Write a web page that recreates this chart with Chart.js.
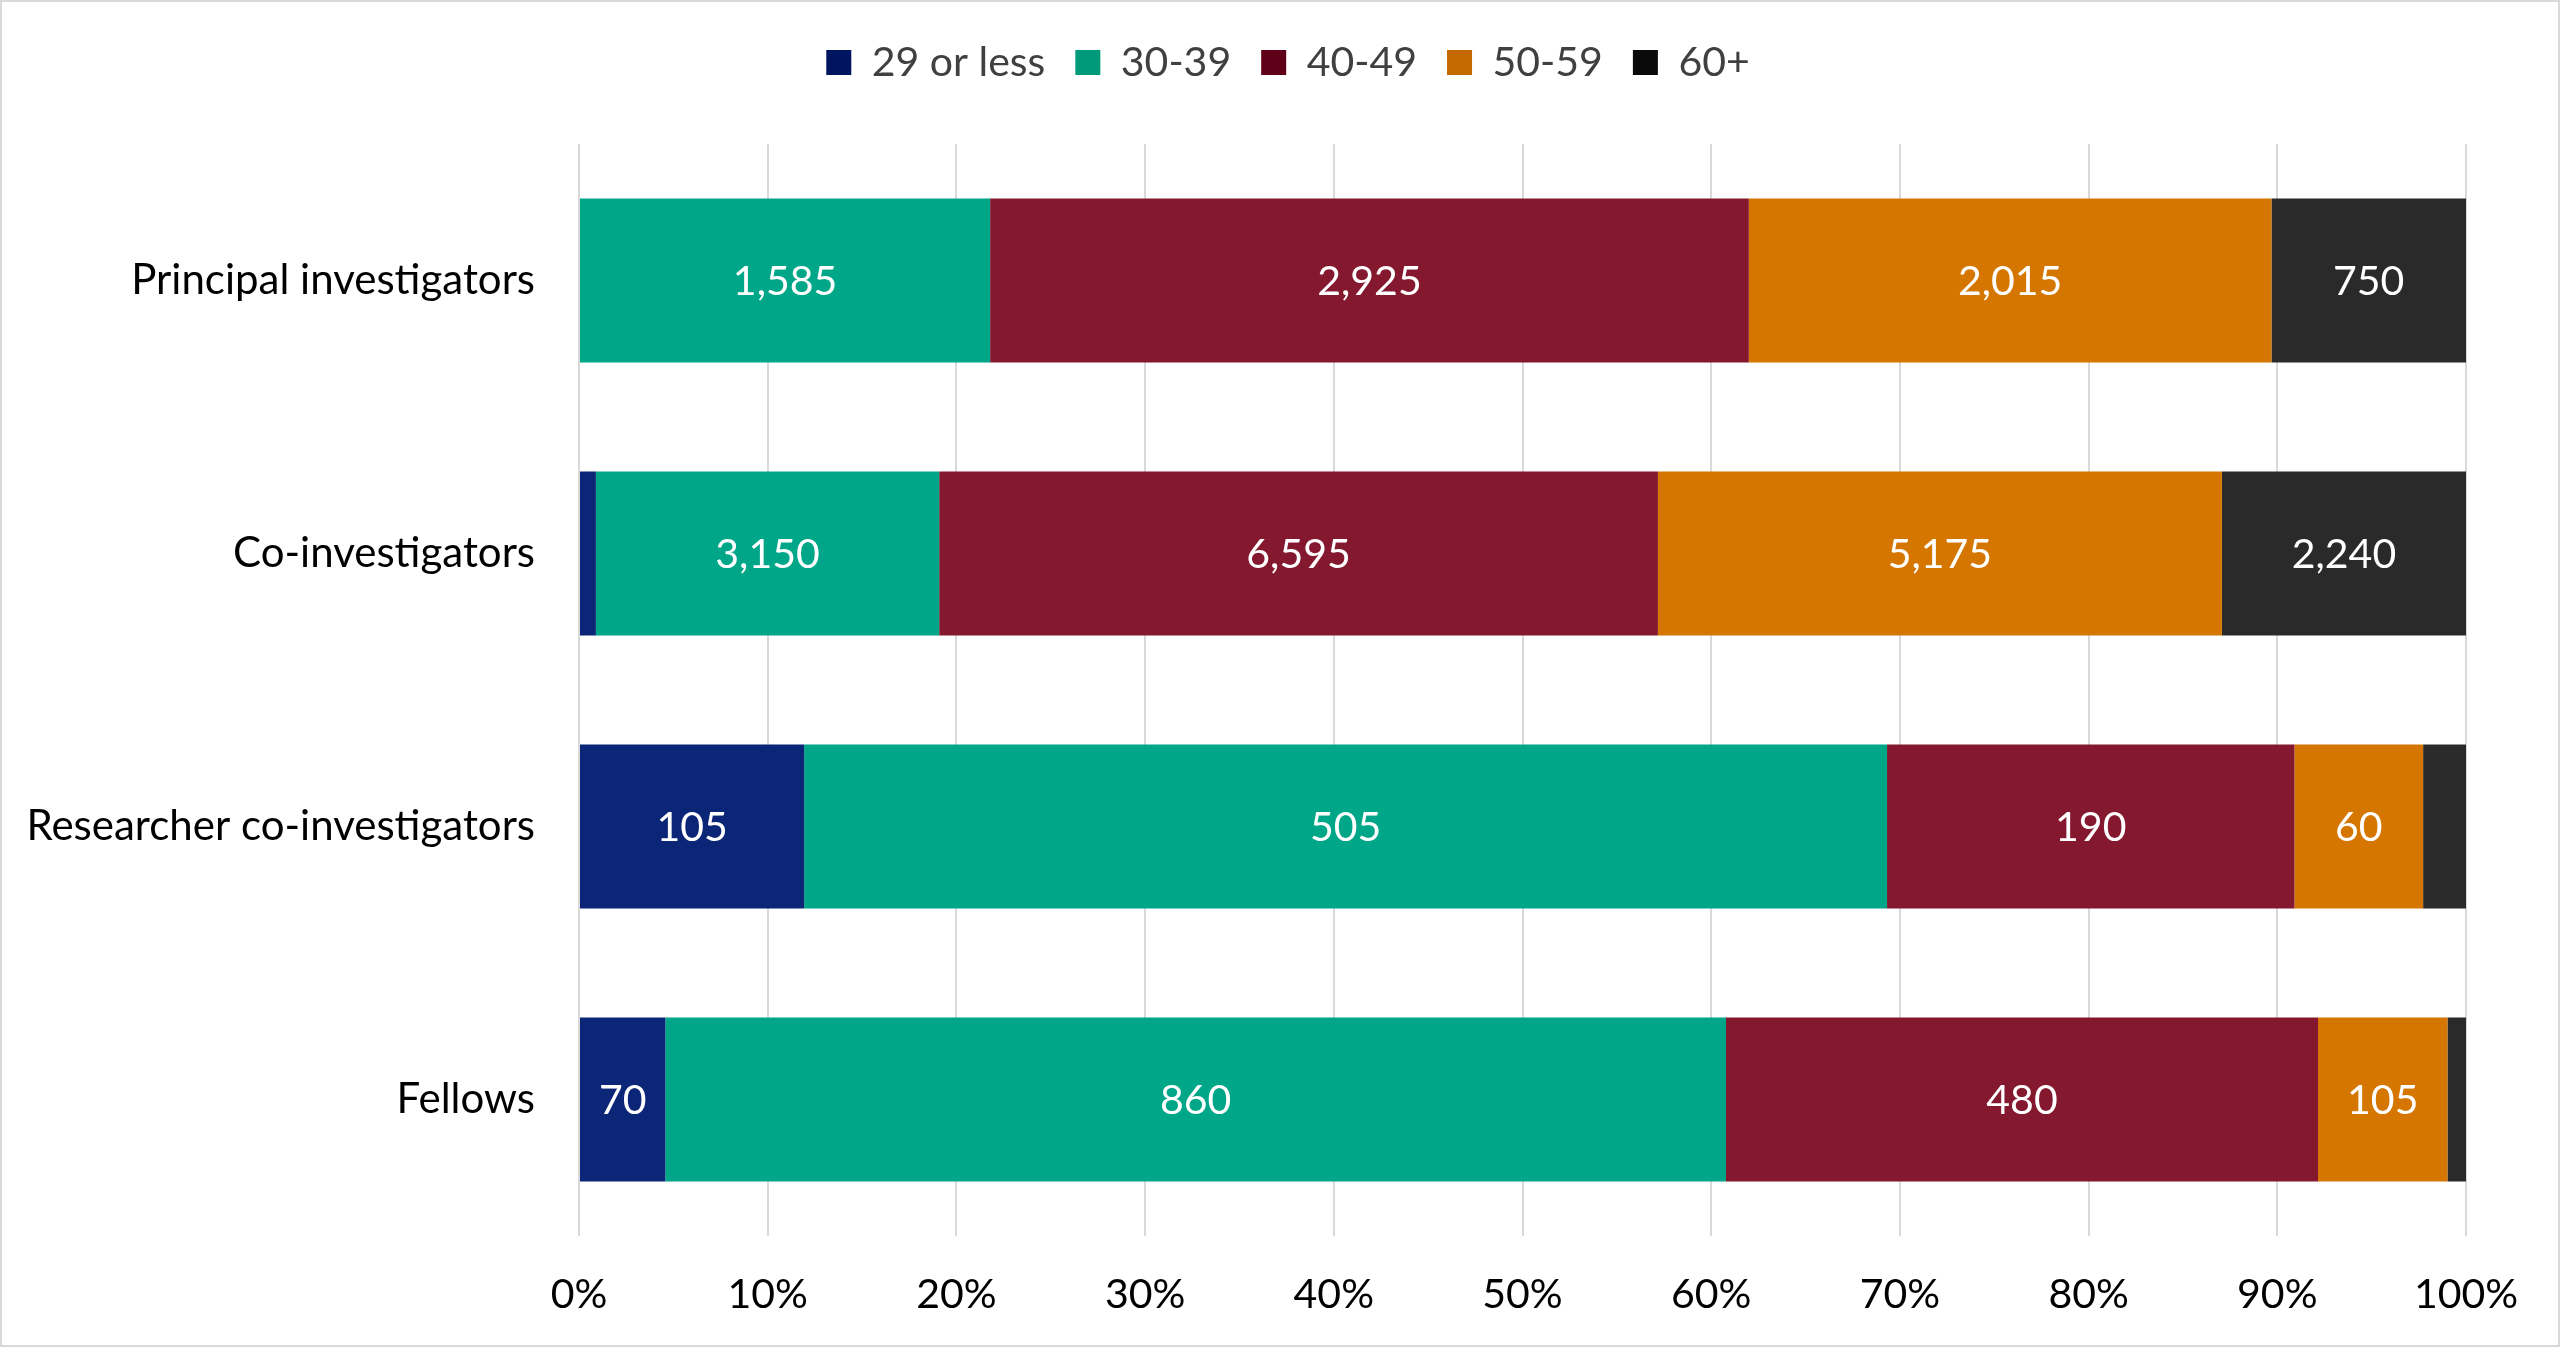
<!DOCTYPE html>
<html>
<head>
<meta charset="utf-8">
<title>Age profile of award holders</title>
<script src="https://cdn.jsdelivr.net/npm/chart.js@4/dist/chart.umd.min.js"></script>
<style>
  html, body { margin: 0; padding: 0; background: #fff; overflow: hidden; }
  #wrap { width: 2560px; height: 1347px; box-sizing: border-box; border: 2px solid #d9d9d9; position: relative; }
</style>
</head>
<body>
<div id="wrap"><canvas id="ageChart"></canvas></div>
<script>
// categories and counts per age group
const categories = ['Principal investigators', 'Co-investigators', 'Researcher co-investigators', 'Fellows'];
const ageGroups = ['29 or less', '30-39', '40-49', '50-59', '60+'];
const under30 = [0, 155, 105, 70];
const age30s = [1585, 3150, 505, 860];
const age40s = [2925, 6595, 190, 480];
const age50s = [2015, 5175, 60, 105];
const over60 = [750, 2240, 20, 15];
const xTicks = [0, 10, 20, 30, 40, 50, 60, 70, 80, 90, 100];

const barColors = ['#0b2577', '#00a688', '#83182e', '#d47600', '#2a2a2a'];
const legendColors = ['#001560', '#009a7a', '#600018', '#c46800', '#0a0a0a'];

const series = [under30, age30s, age40s, age50s, over60];

// totals per category so every bar adds up to 100%
let totals = categories.map(function (c, j) {
    return series.reduce(function (sum, s) { return sum + s[j]; }, 0);
});

Chart.defaults.font.family = 'Lato';
Chart.defaults.font.size = 41;

let datasets = series.map(function (s, i) {
    return {
        label: ageGroups[i],
        data: s.map(function (v, j) { return v / totals[j] * 100; }),
        backgroundColor: barColors[i],
        borderWidth: 0,
        categoryPercentage: 1,
        barPercentage: 0.6
    };
});

// white count labels in the middle of each segment wide enough to hold them
const countLabels = {
    id: 'countLabels',
    afterDatasetsDraw: function (chart) {
        let ctx = chart.ctx;
        ctx.save();
        ctx.font = '41px Lato';
        ctx.fillStyle = '#ffffff';
        ctx.textAlign = 'center';
        ctx.textBaseline = 'middle';
        series.forEach(function (s, i) {
            let meta = chart.getDatasetMeta(i);
            meta.data.forEach(function (bar, j) {
                let v = s[j];
                if (!v) return;
                if (Math.abs(bar.x - bar.base) < 60) return;
                ctx.fillText(v.toLocaleString('en-US'), (bar.x + bar.base) / 2, bar.y + 1);
            });
        });
        ctx.restore();
    }
};

// the legend sits a little right of the canvas centre in the original
const legendShift = {
    id: 'legendShift',
    afterLayout: function (chart) {
        chart.legend.left += 54;
        chart.legend.right += 54;
    }
};

new Chart(document.getElementById('ageChart'), {
    type: 'bar',
    data: { labels: categories, datasets: datasets },
    plugins: [countLabels, legendShift],
    options: {
        indexAxis: 'y',
        responsive: true,
        maintainAspectRatio: false,
        animation: false,
        devicePixelRatio: 1,
        layout: { padding: { top: 10, right: 92, bottom: 0, left: 0 } },
        plugins: {
            tooltip: { enabled: false },
            legend: {
                position: 'top',
                weight: 3000,
                labels: {
                    boxWidth: 25,
                    boxHeight: 25,
                    padding: 30,
                    color: '#404040',
                    font: { size: 41 },
                    generateLabels: function (chart) {
                        let items = Chart.defaults.plugins.legend.labels.generateLabels(chart);
                        items.forEach(function (it, i) {
                            it.fillStyle = legendColors[i];
                            it.strokeStyle = legendColors[i];
                            it.lineWidth = 0;
                        });
                        return items;
                    }
                }
            },
            // empty title used only as a spacer between legend and plot
            title: {
                display: true,
                text: '',
                font: { size: 10 },
                padding: { top: 0, bottom: 39 }
            }
        },
        scales: {
            x: {
                stacked: true,
                min: 0,
                max: 100,
                afterBuildTicks: function (scale) {
                    scale.ticks = xTicks.map(function (v) { return { value: v }; });
                },
                afterFit: function (scale) { scale.height = 109; },
                grid: { color: '#d9d9d9', lineWidth: 2, drawTicks: false },
                border: { display: false },
                ticks: {
                    color: '#000000',
                    padding: 34,
                    callback: function (v) { return v + '%'; }
                }
            },
            y: {
                stacked: true,
                afterFit: function (scale) { scale.width = 577; },
                grid: { display: false, drawTicks: false },
                border: { display: false },
                ticks: { color: '#000000', padding: 44, font: { size: 42 } }
            }
        }
    }
});
</script>
</body>
</html>
